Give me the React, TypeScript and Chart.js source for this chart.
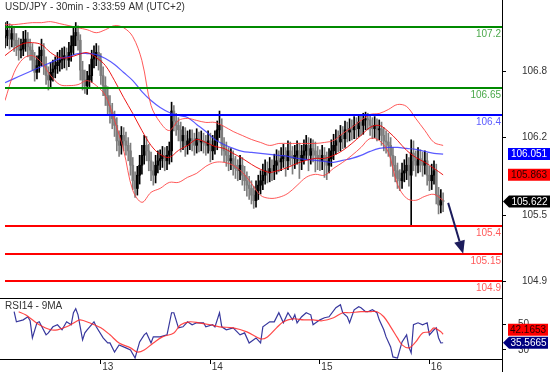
import React, { useEffect, useRef } from "react";
import { Chart, registerables } from "chart.js";

Chart.register(...registerables);

const FONT = "'Liberation Sans', Arial, Helvetica, sans-serif";
const TEXT = "#333333";

const title = "USD/JPY - 30min - 3:33:59 AM (UTC+2)";
const rsiTitle = "RSI14 - 9MA";

// 30-minute candles (bar index 0 .. 192)
const opens = [
  107.10,107.12,107.17,107.09,107.14,107.08,107.03,106.99,107.00,107.06,
  107.09,107.02,106.99,106.90,106.79,106.85,106.94,106.99,106.85,106.76,
  106.72,106.79,106.82,106.85,106.88,106.90,106.91,106.94,106.90,106.97,
  107.03,107.12,107.15,107.08,106.81,106.72,106.67,106.72,106.76,106.91,
  106.94,106.97,106.90,106.76,106.67,106.58,106.49,106.43,106.37,106.31,
  106.17,106.13,106.22,106.17,106.13,106.08,105.95,105.81,105.74,105.86,
  105.95,106.04,106.13,106.08,105.99,105.90,105.86,105.95,105.99,106.01,
  106.04,105.99,106.04,106.08,106.44,106.35,106.31,106.27,106.17,106.22,
  106.13,106.17,106.19,106.17,106.13,106.19,106.16,106.17,106.15,106.13,
  106.17,106.08,106.13,106.17,106.27,106.31,106.13,106.08,106.04,105.99,
  106.01,105.95,105.92,105.90,105.95,105.86,105.81,105.77,105.74,105.68,
  105.63,105.72,105.77,105.81,105.86,105.90,105.88,105.92,105.90,105.95,
  105.99,105.98,106.01,106.04,105.99,106.08,106.04,106.01,106.04,106.08,
  105.99,106.04,106.08,106.13,106.04,106.10,106.08,106.04,106.01,105.99,
  106.04,105.99,105.95,106.01,106.08,106.13,106.17,106.16,106.22,106.19,
  106.27,106.25,106.28,106.27,106.31,106.28,106.34,106.31,106.36,106.37,
  106.36,106.31,106.28,106.31,106.27,106.28,106.22,106.17,106.16,106.13,
  106.04,105.95,105.90,105.83,105.81,105.88,105.90,105.95,105.86,106.06,
  105.99,105.95,106.01,105.98,105.95,105.99,105.86,105.81,105.86,105.90,
  105.68,105.59,105.63,
];
const highs = [
  107.24,107.25,107.23,107.21,107.20,107.14,107.10,107.09,107.16,107.17,
  107.15,107.09,107.05,106.97,106.94,107.02,107.09,107.05,106.93,106.84,
  106.88,106.90,106.93,106.97,106.99,107.01,107.02,107.01,107.06,107.12,
  107.20,107.24,107.21,107.13,106.89,106.81,106.80,106.86,106.99,107.03,
  107.05,107.03,106.96,106.84,106.75,106.66,106.58,106.51,106.44,106.38,
  106.26,106.30,106.29,106.25,106.20,106.15,106.02,105.89,105.94,106.04,
  106.13,106.22,106.21,106.14,106.07,105.98,106.04,106.08,106.09,106.12,
  106.11,106.12,106.16,106.52,106.49,106.42,106.38,106.34,106.30,106.29,
  106.26,106.27,106.27,106.24,106.28,106.25,106.26,106.24,106.22,106.26,
  106.24,106.22,106.26,106.35,106.44,106.37,106.20,106.16,106.11,106.10,
  106.08,106.03,106.00,106.04,106.02,105.94,105.89,105.85,105.81,105.76,
  105.81,105.86,105.90,105.96,106.00,105.98,106.02,106.00,106.05,106.09,
  106.08,106.11,106.14,106.11,106.17,106.16,106.12,106.13,106.17,106.15,
  106.13,106.18,106.22,106.20,106.19,106.18,106.16,106.12,106.09,106.13,
  106.11,106.07,106.10,106.18,106.23,106.27,106.26,106.31,106.30,106.35,
  106.34,106.37,106.36,106.39,106.38,106.41,106.40,106.42,106.43,106.42,
  106.41,106.38,106.39,106.37,106.36,106.34,106.29,106.26,106.24,106.20,
  106.11,106.03,105.97,105.91,105.97,106.00,106.05,106.02,106.18,106.17,
  106.08,106.11,106.09,106.07,106.08,106.06,105.94,105.96,105.99,105.96,
  105.75,105.73,105.70,
];
const lows = [
  107.01,107.03,107.00,107.02,106.98,106.94,106.90,106.92,106.94,106.98,
  106.93,106.90,106.81,106.71,106.73,106.79,106.85,106.77,106.68,106.63,
  106.66,106.71,106.74,106.78,106.80,106.82,106.83,106.81,106.84,106.89,
  106.95,107.03,106.99,106.72,106.63,106.60,106.59,106.65,106.70,106.83,
  106.85,106.81,106.68,106.58,106.49,106.41,106.33,106.28,106.21,106.08,
  106.03,106.05,106.08,106.04,105.99,105.86,105.73,105.66,105.68,105.78,
  105.87,105.96,105.99,105.90,105.81,105.77,105.79,105.88,105.91,105.93,
  105.90,105.91,105.96,105.98,106.26,106.22,106.17,106.07,106.09,106.03,
  106.05,106.09,106.08,106.04,106.06,106.07,106.08,106.06,106.04,106.06,
  105.98,106.00,106.05,106.09,106.20,106.04,105.98,105.94,105.90,105.91,
  105.86,105.83,105.81,105.82,105.77,105.72,105.67,105.64,105.60,105.56,
  105.57,105.64,105.69,105.73,105.78,105.79,105.80,105.81,105.82,105.87,
  105.89,105.90,105.93,105.85,105.91,105.95,105.87,105.92,105.96,105.83,
  105.91,105.96,106.00,105.90,105.96,105.98,105.89,105.91,105.90,105.91,
  105.84,105.82,105.88,105.94,106.00,106.05,106.07,106.08,106.10,106.11,
  106.16,106.17,106.18,106.19,106.19,106.21,106.22,106.23,106.27,106.27,
  106.22,106.19,106.20,106.17,106.18,106.13,106.08,106.06,106.03,105.94,
  105.85,105.80,105.74,105.72,105.74,105.80,105.82,105.76,105.41,105.90,
  105.85,105.88,105.89,105.85,105.87,105.77,105.72,105.73,105.78,105.60,
  105.51,105.52,105.53,
];
const closes = [
  107.12,107.17,107.09,107.14,107.08,107.03,106.99,107.00,107.06,107.09,
  107.02,106.99,106.90,106.79,106.85,106.94,106.99,106.85,106.76,106.72,
  106.79,106.82,106.85,106.88,106.90,106.91,106.94,106.90,106.97,107.03,
  107.12,107.15,107.08,106.81,106.72,106.67,106.72,106.76,106.91,106.94,
  106.97,106.90,106.76,106.67,106.58,106.49,106.43,106.37,106.31,106.17,
  106.13,106.22,106.17,106.13,106.08,105.95,105.81,105.74,105.86,105.95,
  106.04,106.13,106.08,105.99,105.90,105.86,105.95,105.99,106.01,106.04,
  105.99,106.04,106.08,106.44,106.35,106.31,106.27,106.17,106.22,106.13,
  106.17,106.19,106.17,106.13,106.19,106.16,106.17,106.15,106.13,106.17,
  106.08,106.13,106.17,106.27,106.31,106.13,106.08,106.04,105.99,106.01,
  105.95,105.92,105.90,105.95,105.86,105.81,105.77,105.74,105.68,105.63,
  105.72,105.77,105.81,105.86,105.90,105.88,105.92,105.90,105.95,105.99,
  105.98,106.01,106.04,105.99,106.08,106.04,106.01,106.04,106.08,105.99,
  106.04,106.08,106.13,106.04,106.10,106.08,106.04,106.01,105.99,106.04,
  105.99,105.95,106.01,106.08,106.13,106.17,106.16,106.22,106.19,106.27,
  106.25,106.28,106.27,106.31,106.28,106.34,106.31,106.36,106.37,106.36,
  106.31,106.28,106.31,106.27,106.28,106.22,106.17,106.16,106.13,106.04,
  105.95,105.90,105.83,105.81,105.88,105.90,105.95,105.86,106.06,105.99,
  105.95,106.01,105.98,105.95,105.99,105.86,105.81,105.86,105.90,105.68,
  105.59,105.63,105.622,
];

// Bollinger bands and moving average, read every 4 bars
const bandIndex = [
  0,4,8,12,16,20,24,28,32,36,40,44,48,52,56,60,64,68,72,76,80,84,88,92,96,
  100,104,108,112,116,120,124,128,132,136,140,144,148,152,156,160,164,168,172,176,180,184,188,192,
];
const bbUpper = [
  107.221,107.221,107.230,107.239,107.239,107.248,107.230,107.212,107.193,107.175,
  107.148,107.175,107.212,107.193,107.112,106.896,106.490,106.337,106.264,106.355,
  106.373,106.355,106.337,106.337,106.301,106.255,106.219,106.183,106.156,106.129,
  106.147,106.147,106.147,106.147,106.147,106.156,106.174,106.237,106.292,106.355,
  106.409,106.418,106.454,106.499,106.481,106.373,106.264,106.156,106.129,
];
const bbMiddle = [
  106.941,107.004,107.049,107.058,107.040,106.968,106.923,106.923,106.950,106.968,
  106.923,106.851,106.715,106.562,106.418,106.264,106.129,106.048,106.021,106.084,
  106.129,106.183,106.156,106.120,106.102,106.057,106.012,105.958,105.913,105.886,
  105.904,105.931,105.967,105.994,106.012,106.012,106.039,106.084,106.147,106.219,
  106.292,106.310,106.255,106.174,106.084,106.021,105.976,105.922,105.863,
];
const bbLower = [
  106.535,106.788,106.914,106.941,106.878,106.761,106.679,106.670,106.679,106.715,
  106.670,106.580,106.355,106.084,105.723,105.615,105.705,105.741,105.795,105.795,
  105.841,105.877,105.940,105.976,105.976,105.949,105.886,105.786,105.678,105.651,
  105.660,105.696,105.768,105.841,105.868,105.859,105.922,105.976,106.039,106.111,
  106.192,106.174,106.066,105.775,105.651,105.633,105.669,105.687,105.633,
];
const movingAvg = [
  106.697,106.733,106.770,106.806,106.842,106.878,106.914,106.932,106.959,106.959,
  106.950,106.914,106.860,106.788,106.715,106.616,106.535,106.472,106.427,106.400,
  106.382,106.319,106.255,106.183,106.138,106.102,106.075,106.066,106.057,106.048,
  106.039,106.030,106.012,106.003,105.994,105.985,105.976,105.994,106.012,106.039,
  106.075,106.102,106.111,106.111,106.102,106.093,106.075,106.057,106.051,
];

// RSI 14 and its 9 MA
const rsiIndex = [
  4,5,8,10,11,12,14,15,18,19,21,23,25,27,29,30,31,32,34,35,
  36,39,40,43,45,46,48,50,53,55,57,59,61,62,64,65,68,71,73,74,
  76,78,80,82,84,87,88,91,92,94,95,97,100,103,105,107,110,112,113,116,
  118,120,122,124,126,127,128,130,132,134,135,138,140,142,145,147,148,150,151,153,
  155,156,158,159,161,163,164,166,167,169,170,172,173,174,176,177,178,179,181,183,
  185,186,188,189,190,191,192,
];
const rsiValues = [
  59.6,51.8,53.3,55.7,52.6,39.3,51.0,51.8,41.7,43.2,47.9,49.5,45.6,51.8,49.5,58.8,61.9,57.2,37.8,43.2,
  45.6,51.8,47.9,39.3,35.4,35.4,28.4,33.9,31.6,30.0,23.8,36.2,41.7,43.2,35.4,40.1,40.1,41.7,58.8,58.8,
  47.1,47.9,51.8,49.5,51.0,51.0,47.9,49.5,47.9,58.8,47.9,45.6,47.1,41.7,43.2,35.4,39.3,35.4,47.9,51.8,
  51.8,58.8,51.0,58.8,53.3,57.2,51.0,55.7,58.8,57.2,49.5,53.3,54.9,55.7,62.7,65.0,58.8,55.7,51.0,61.1,
  63.5,62.7,59.6,59.6,61.1,58.8,53.3,45.6,40.1,32.3,24.6,23.8,30.0,36.2,41.7,32.3,27.7,49.5,51.0,49.5,
  51.0,41.7,45.6,47.1,39.3,35.4,35.5665,
];
const rsiMaIndex = [
  6,9,12,15,20,23,27,31,33,37,42,46,50,55,58,61,65,69,74,77,
  81,85,90,94,100,106,112,115,119,122,126,131,135,139,144,148,151,156,160,163,
  166,169,172,174,177,180,183,186,188,191,192,
];
const rsiMaValues = [
  59.6,57.2,53.3,49.5,45.6,45.6,47.9,51.8,53.3,51.0,47.1,41.7,35.4,31.6,28.4,30.0,35.4,40.1,43.2,49.5,
  51.8,51.0,49.5,47.9,47.1,44.0,38.6,40.1,47.1,51.8,54.1,53.3,53.3,52.6,54.9,58.8,58.8,59.6,59.6,59.6,
  55.7,47.9,39.3,33.9,31.6,36.2,43.2,44.0,47.1,44.0,42.1653,
];

const dayTickIndex = [42, 90, 138, 186];
const dayLabels = ["13", "14", "15", "16"];
const priceTicks = [106.8, 106.2, 105.5, 104.9];
const rsiTicks = [50, 30];

const levels = [107.2, 106.65, 106.4, 105.4, 105.15, 104.9];
const levelKinds = ["green", "green", "blue", "red", "red", "red"];

const lastMa = 106.051;
const lastMiddle = 105.863;
const lastClose = 105.622;
const lastRsi = 35.5665;
const lastRsiMa = 42.1653;

const arrowFrom = [194.2, 105.61];
const arrowTo = [200.8, 105.15];

const X_MIN = 0;
const X_MAX = 217.8;
const PRICE_MIN = 104.75;
const PRICE_MAX = 107.29;
const RSI_MIN = 23;
const RSI_MAX = 70.2;

const LEVEL_LINE: Record<string, string> = { green: "#008a00", blue: "#0000ff", red: "#ff0000" };
const LEVEL_TEXT: Record<string, string> = { green: "#4aa84a", blue: "#5c5cff", red: "#ff5a5a" };

function drawTag(ctx: CanvasRenderingContext2D, text: string, yc: number, left: number, right: number, fill: string, color: string, pointer: boolean) {
  const h = 12;
  ctx.fillStyle = fill;
  ctx.beginPath();
  if (pointer) {
    ctx.moveTo(left - 6, yc);
    ctx.lineTo(left, yc - h / 2);
  } else {
    ctx.moveTo(left, yc - h / 2);
  }
  ctx.lineTo(right, yc - h / 2);
  ctx.lineTo(right, yc + h / 2);
  ctx.lineTo(left, yc + h / 2);
  ctx.closePath();
  ctx.fill();
  ctx.fillStyle = color;
  ctx.font = `10px ${FONT}`;
  ctx.textAlign = "center";
  ctx.textBaseline = "middle";
  ctx.fillText(text, (left + right) / 2, yc + 0.5);
}

const mainPlugin = {
  id: "mainDecor",
  afterDatasetsDraw(chart: any) {
    const { ctx, chartArea: ca, scales } = chart;
    const y = scales.y;
    const x = scales.x;
    ctx.save();
    levels.forEach((v, k) => {
      const kind = levelKinds[k];
      const py = Math.round(y.getPixelForValue(v));
      ctx.strokeStyle = LEVEL_LINE[kind];
      ctx.lineWidth = 2;
      ctx.beginPath();
      ctx.moveTo(ca.left, py);
      ctx.lineTo(ca.right, py);
      ctx.stroke();
      ctx.fillStyle = LEVEL_TEXT[kind];
      ctx.font = `10px ${FONT}`;
      ctx.textAlign = "right";
      ctx.textBaseline = "top";
      ctx.fillText(String(v), ca.right - 1, py + 2);
    });
    const x1 = x.getPixelForValue(arrowFrom[0]);
    const y1 = y.getPixelForValue(arrowFrom[1]);
    const x2 = x.getPixelForValue(arrowTo[0]);
    const y2 = y.getPixelForValue(arrowTo[1]);
    const ang = Math.atan2(y2 - y1, x2 - x1);
    const headLen = 13;
    const headW = 5.5;
    const bx = x2 - headLen * Math.cos(ang);
    const by = y2 - headLen * Math.sin(ang);
    ctx.strokeStyle = "#1c1c5c";
    ctx.fillStyle = "#1c1c5c";
    ctx.lineWidth = 2;
    ctx.beginPath();
    ctx.moveTo(x1, y1);
    ctx.lineTo(bx, by);
    ctx.stroke();
    ctx.beginPath();
    ctx.moveTo(x2, y2);
    ctx.lineTo(bx + headW * Math.sin(ang), by - headW * Math.cos(ang));
    ctx.lineTo(bx - headW * Math.sin(ang), by + headW * Math.cos(ang));
    ctx.closePath();
    ctx.fill();
    ctx.restore();
  },
  afterDraw(chart: any) {
    const { ctx, chartArea: ca, scales } = chart;
    const y = scales.y;
    ctx.save();
    ctx.fillStyle = TEXT;
    ctx.font = `10px ${FONT}`;
    ctx.textAlign = "left";
    ctx.textBaseline = "top";
    ctx.fillText(title, 5, 2);
    const vx = Math.round(ca.right) + 0.5;
    ctx.strokeStyle = "#000";
    ctx.lineWidth = 1;
    ctx.beginPath();
    ctx.moveTo(vx, 0);
    ctx.lineTo(vx, chart.height);
    ctx.stroke();
    const l = ca.right + 6;
    const r = ca.right + 48;
    drawTag(ctx, String(lastMa), y.getPixelForValue(lastMa), l, r, "#0000ff", "#ffffff", false);
    drawTag(ctx, String(lastMiddle), y.getPixelForValue(lastMiddle), l, r, "#ff0000", "#2a0000", false);
    drawTag(ctx, String(lastClose), y.getPixelForValue(lastClose), l + 1, r, "#000000", "#ffffff", true);
    ctx.restore();
  },
};

const rsiPlugin = {
  id: "rsiDecor",
  afterDraw(chart: any) {
    const { ctx, chartArea: ca, scales } = chart;
    const y = scales.y;
    ctx.save();
    ctx.strokeStyle = "#000";
    ctx.lineWidth = 1;
    ctx.beginPath();
    ctx.moveTo(0, Math.round(ca.top) + 0.5);
    ctx.lineTo(ca.right, Math.round(ca.top) + 0.5);
    ctx.moveTo(0, Math.round(ca.bottom) + 0.5);
    ctx.lineTo(ca.right, Math.round(ca.bottom) + 0.5);
    const vx = Math.round(ca.right) + 0.5;
    ctx.moveTo(vx, 0);
    ctx.lineTo(vx, chart.height - 2);
    ctx.stroke();
    ctx.fillStyle = TEXT;
    ctx.font = `10px ${FONT}`;
    ctx.textAlign = "left";
    ctx.textBaseline = "top";
    ctx.fillText(rsiTitle, 5, ca.top + 3);
    const l = ca.right + 6;
    const r = ca.right + 46;
    const yRsi = y.getPixelForValue(lastRsi);
    const yMa = Math.min(y.getPixelForValue(lastRsiMa), yRsi - 13);
    drawTag(ctx, String(lastRsiMa), yMa, l, r, "#ff0000", "#2a0000", false);
    drawTag(ctx, String(lastRsi), yRsi, l + 1, r, "#000080", "#ffffff", true);
    ctx.restore();
  },
};

function candleColor(i: number) {
  return closes[i] >= opens[i] ? "#000000" : "#7d7d7d";
}

export default function App() {
  const mainRef = useRef<HTMLCanvasElement>(null);
  const rsiRef = useRef<HTMLCanvasElement>(null);

  useEffect(() => {
    Chart.defaults.font.family = FONT;
    const bandPts = (arr: number[]) => bandIndex.map((x, k) => ({ x, y: arr[k] }));
    const lineDs = (label: string, arr: number[], color: string, width: number) => ({
      type: "line" as const,
      label,
      data: bandPts(arr),
      borderColor: color,
      borderWidth: width,
      pointRadius: 0,
      tension: 0.35,
      fill: false,
      order: 0,
    });

    const main = new Chart(mainRef.current as HTMLCanvasElement, {
      type: "bar",
      data: {
        datasets: [
          lineDs("BB upper", bbUpper, "rgba(255,60,60,0.85)", 1),
          lineDs("BB middle", bbMiddle, "rgba(235,0,0,0.9)", 1),
          lineDs("BB lower", bbLower, "rgba(255,60,60,0.85)", 1),
          lineDs("MA", movingAvg, "rgba(50,50,255,0.8)", 1.2),
          {
            type: "bar",
            label: "wick",
            data: opens.map((_, i) => ({ x: i, y: [lows[i], highs[i]] })) as any,
            backgroundColor: opens.map((_, i) => candleColor(i)),
            barThickness: 1,
            grouped: false,
            order: 2,
          },
          {
            type: "bar",
            label: "body",
            data: opens.map((o, i) => ({ x: i, y: [o, closes[i]] })) as any,
            backgroundColor: opens.map((_, i) => candleColor(i)),
            barThickness: 2,
            minBarLength: 1,
            grouped: false,
            order: 1,
          },
        ] as any,
      },
      options: {
        animation: false,
        responsive: false,
        devicePixelRatio: 1,
        events: [],
        layout: { padding: { top: 17, left: 5, right: 0, bottom: 2 } },
        plugins: { legend: { display: false }, tooltip: { enabled: false } },
        scales: {
          x: { type: "linear", min: X_MIN, max: X_MAX, offset: false, display: false },
          y: {
            type: "linear",
            position: "right",
            min: PRICE_MIN,
            max: PRICE_MAX,
            afterBuildTicks: (s: any) => {
              s.ticks = priceTicks.map((v) => ({ value: v }));
            },
            afterFit: (s: any) => {
              s.width = 52;
              s.paddingTop = 0;
              s.paddingBottom = 0;
            },
            ticks: { color: TEXT, font: { family: FONT, size: 10 }, padding: 16, callback: (v: any) => String(v) },
            grid: { drawOnChartArea: false, drawTicks: true, tickLength: 4, color: "#000" },
            border: { display: false },
          },
        },
      } as any,
      plugins: [mainPlugin],
    });

    const rsi = new Chart(rsiRef.current as HTMLCanvasElement, {
      type: "line",
      data: {
        datasets: [
          {
            label: "RSI14",
            data: rsiIndex.map((x, k) => ({ x, y: rsiValues[k] })),
            borderColor: "rgba(20,20,140,0.85)",
            borderWidth: 1.2,
            pointRadius: 0,
            tension: 0,
            order: 1,
          },
          {
            label: "9MA",
            data: rsiMaIndex.map((x, k) => ({ x, y: rsiMaValues[k] })),
            borderColor: "rgba(255,40,40,0.85)",
            borderWidth: 1.2,
            pointRadius: 0,
            tension: 0.35,
            order: 0,
          },
        ],
      },
      options: {
        animation: false,
        responsive: false,
        devicePixelRatio: 1,
        events: [],
        layout: { padding: { top: 2, left: 5, right: 0, bottom: 0 } },
        plugins: { legend: { display: false }, tooltip: { enabled: false } },
        scales: {
          x: {
            type: "linear",
            min: X_MIN,
            max: X_MAX,
            offset: false,
            afterBuildTicks: (s: any) => {
              s.ticks = dayTickIndex.map((v) => ({ value: v }));
            },
            afterFit: (s: any) => {
              s.height = 15;
              s.paddingLeft = 0;
              s.paddingRight = 0;
            },
            ticks: {
              color: TEXT,
              font: { family: FONT, size: 10 },
              autoSkip: false,
              maxRotation: 0,
              labelOffset: 7,
              padding: -3,
              callback: (v: any) => {
                const k = dayTickIndex.indexOf(Number(v));
                return k >= 0 ? dayLabels[k] : "";
              },
            },
            grid: { drawOnChartArea: false, drawTicks: true, tickLength: 5, color: "#000" },
            border: { display: false },
          },
          y: {
            type: "linear",
            position: "right",
            min: RSI_MIN,
            max: RSI_MAX,
            afterBuildTicks: (s: any) => {
              s.ticks = rsiTicks.map((v) => ({ value: v }));
            },
            afterFit: (s: any) => {
              s.width = 52;
              s.paddingTop = 0;
              s.paddingBottom = 0;
            },
            ticks: { color: TEXT, font: { family: FONT, size: 10 }, padding: 12, callback: (v: any) => String(v) },
            grid: { drawOnChartArea: false, drawTicks: true, tickLength: 4, color: "#000" },
            border: { display: false },
          },
        },
      } as any,
      plugins: [rsiPlugin],
    });

    return () => {
      main.destroy();
      rsi.destroy();
    };
  }, []);

  return (
    <div style={{ position: "fixed", left: 0, top: 0, width: 554, height: 374, background: "#ffffff", overflow: "hidden" }}>
      <canvas ref={mainRef} width={554} height={300} style={{ position: "absolute", left: 0, top: 0, width: 554, height: 300 }} />
      <canvas ref={rsiRef} width={554} height={78} style={{ position: "absolute", left: 0, top: 296, width: 554, height: 78 }} />
    </div>
  );
}
